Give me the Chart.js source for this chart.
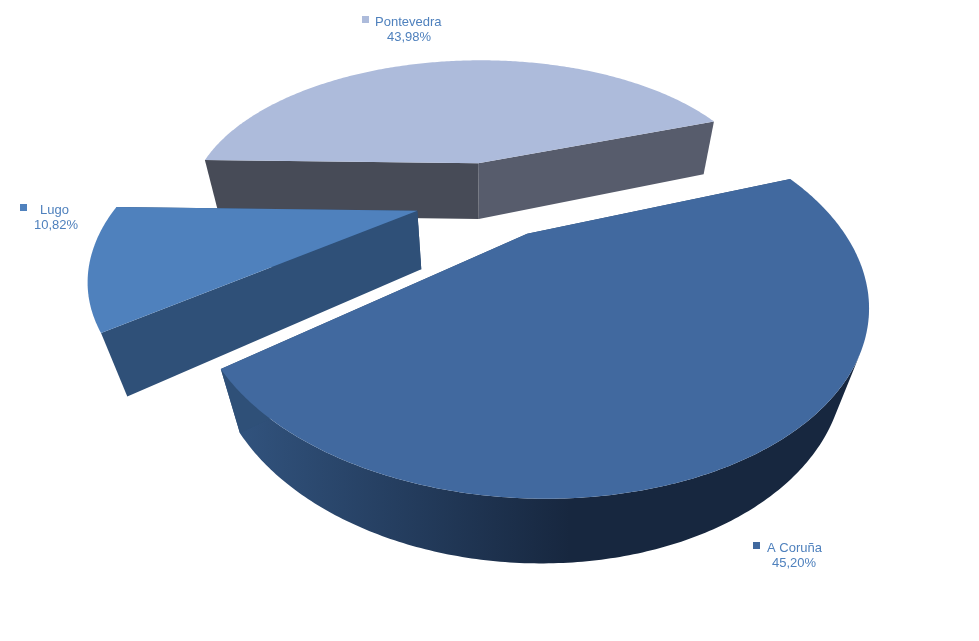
<!DOCTYPE html>
<html>
<head>
<meta charset="utf-8">
<style>
  html, body { margin: 0; padding: 0; background: #ffffff; }
  canvas { display: block; }
</style>
<script src="https://cdn.jsdelivr.net/npm/chart.js@4"></script>
</head>
<body>
<canvas id="pie" width="979" height="641"></canvas>
<script>
// data, same order as the slices go round clockwise
var provinces = ['A Coruña', 'Lugo', 'Pontevedra'];
var shares = [45.20, 10.82, 43.98];

// look of the slices
var topColors = ['#41699f', '#4f81bd', '#adbbdb'];
var startFaceColors = ['#2f5078', '#2f5078', '#474b57'];
var endFaceColors = ['#2f5078', '#2f5078', '#575c6c'];
var explodeBy = [0.245, 0.25, 0.25];
var drawOrder = [2, 1, 0]; // back to front
var wallSlice = 0; // the other two only show their cut faces

// where the legend text sits (marker x, first line x, first baseline, second line x)
var labelSpots = [
  { marker: 753, name: 767, base: 552, pct: 772 },
  { marker: 20, name: 40, base: 214, pct: 34 },
  { marker: 362, name: 375, base: 26, pct: 387 }
];

// camera for the fake 3d
var cam = { dy: -122, wide: 0.925, tilt: 0.48, persp: 0.311, vanishY: 1270, depth: 0.057 };

function project(el, u, v) {
  var w = 1 - cam.persp * v;
  return { x: el.x + el.outerRadius * cam.wide * u / w, y: el.y + cam.dy + el.outerRadius * cam.tilt * v / w, w: w };
}

// moves a top point down to the bottom edge of the slice, towards the vanishing point
function drop(el, p) {
  var t = cam.depth / (p.w + cam.depth);
  return { x: p.x + (el.x - p.x) * t, y: p.y + (cam.vanishY - p.y) * t };
}

function tracePoly(ctx, pts) {
  ctx.beginPath();
  pts.forEach(function(p, i) {
    if (i == 0) ctx.moveTo(p.x, p.y); else ctx.lineTo(p.x, p.y);
  });
  ctx.closePath();
}

// only the part of the rim whose wall faces the viewer
function frontRim(el, rim) {
  return rim.filter(function(p, i) {
    var q = rim[Math.min(i + 1, rim.length - 1)];
    var r = rim[Math.max(i - 1, 0)];
    var low = drop(el, p);
    return (low.x - p.x) * (q.y - r.y) - (low.y - p.y) * (q.x - r.x) > 0;
  });
}

function drawSlice(ctx, el, index) {
  var mid = (el.startAngle + el.endAngle) / 2;
  var ox = Math.cos(mid) * explodeBy[index];
  var oy = Math.sin(mid) * explodeBy[index];
  var apex = project(el, ox, oy);
  var rim = [];
  var steps = Math.ceil((el.endAngle - el.startAngle) * 90);
  for (var i = 0; i <= steps; i++) {
    var a = el.startAngle + (el.endAngle - el.startAngle) * i / steps;
    rim.push(project(el, ox + Math.cos(a), oy + Math.sin(a)));
  }
  var first = rim[0];
  var last = rim[rim.length - 1];
  var apexLow = drop(el, apex);

  // outer wall
  if (index == wallSlice) {
    var wall = frontRim(el, rim);
    var grad = ctx.createLinearGradient(230, 0, 570, 0);
    grad.addColorStop(0, '#32547f');
    grad.addColorStop(1, '#17273f');
    tracePoly(ctx, wall.concat(wall.map(function(p) { return drop(el, p); }).reverse()));
    ctx.fillStyle = grad;
    ctx.fill();
  }

  // cut faces
  tracePoly(ctx, [apex, last, drop(el, last), apexLow]);
  ctx.fillStyle = endFaceColors[index];
  ctx.fill();
  tracePoly(ctx, [apex, first, drop(el, first), apexLow]);
  ctx.fillStyle = startFaceColors[index];
  ctx.fill();

  // top
  tracePoly(ctx, [apex].concat(rim));
  ctx.fillStyle = topColors[index];
  ctx.fill();
}

class Pie3dController extends Chart.PieController {
  draw() {
    var ctx = this.chart.ctx;
    var els = this._cachedMeta.data;
    drawOrder.forEach(function(i) {
      drawSlice(ctx, els[i], i);
    });
  }
}
Pie3dController.id = 'pie3d';
Pie3dController.defaults = Chart.PieController.defaults;
Chart.register(Pie3dController);

var legendLabels = {
  id: 'legendLabels',
  afterDraw: function(chart) {
    var ctx = chart.ctx;
    ctx.save();
    ctx.font = '13px "Liberation Sans", Arial, sans-serif';
    ctx.textBaseline = 'alphabetic';
    ctx.textAlign = 'left';
    provinces.forEach(function(name, i) {
      var s = labelSpots[i];
      ctx.fillStyle = topColors[i];
      ctx.fillRect(s.marker, s.base - 10, 7, 7);
      ctx.fillStyle = '#4f81bd';
      ctx.fillText(name, s.name, s.base);
      ctx.fillText(shares[i].toFixed(2).replace('.', ',') + '%', s.pct, s.base + 15);
    });
    ctx.restore();
  }
};

var pieChart = new Chart(document.getElementById('pie').getContext('2d'), {
  type: 'pie3d',
  data: {
    labels: provinces,
    datasets: [{ data: shares, backgroundColor: topColors, borderWidth: 0 }]
  },
  options: {
    responsive: false,
    animation: false,
    rotation: 69.7,
    plugins: { legend: { display: false }, tooltip: { enabled: false } }
  },
  plugins: [legendLabels]
});
</script>
</body>
</html>
